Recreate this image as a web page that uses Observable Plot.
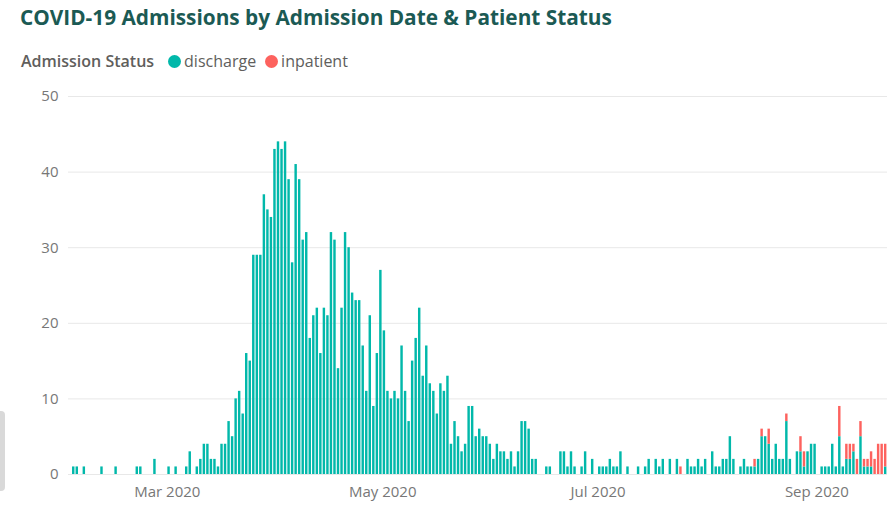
<!DOCTYPE html>
<html>
<head>
<meta charset="utf-8">
<script src="https://cdn.jsdelivr.net/npm/d3@7"></script>
<script src="https://cdn.jsdelivr.net/npm/@observablehq/plot@0.6"></script>
<style>
  html, body { margin: 0; padding: 0; background: #fff; }
  body { width: 895px; height: 519px; position: relative; overflow: hidden; font-family: "Open Sans", "Noto Sans", sans-serif; }
  #title { position: absolute; left: 20px; top: 3px; font-size: 20.8px; font-weight: 700; color: #1b5a54; white-space: nowrap; }
  #legend { position: absolute; left: 21px; top: 50px; display: flex; align-items: center; font-size: 16px; color: #605e5c; white-space: nowrap; }
  #legend .lab { font-weight: 600; margin-right: 14px; }
  #legend .dot { width: 13px; height: 13px; border-radius: 50%; display: inline-block; margin-right: 3px; }
  #legend .item { margin-right: 9px; }
  #chart { position: absolute; left: 0; top: 80px; }
  #scroll { position: absolute; left: 0; top: 411px; width: 5px; height: 80px; background: #d9d9d9; border-radius: 0 4px 4px 0; }
</style>
</head>
<body>
<div id="title">COVID-19 Admissions by Admission Date &amp; Patient Status</div>
<div id="legend"></div>
<div id="chart"></div>
<div id="scroll"></div>
<script>
// ---- data ----
const statuses = ["discharge", "inpatient"];
const statusColors = ["#01B8AA", "#FD625E"];
const legendTitle = "Admission Status";
const yTicks = [0, 10, 20, 30, 40, 50];
const xTickDates = ["2020-03-01", "2020-05-01", "2020-07-01", "2020-09-01"];

const dates = [
  "2020-02-03","2020-02-04","2020-02-06","2020-02-11","2020-02-15","2020-02-21","2020-02-22","2020-02-26",
  "2020-03-01","2020-03-03","2020-03-06","2020-03-07",
  "2020-03-09","2020-03-10","2020-03-11","2020-03-12","2020-03-13","2020-03-14","2020-03-15","2020-03-16","2020-03-17","2020-03-18",
  "2020-03-19","2020-03-20","2020-03-21","2020-03-22","2020-03-23","2020-03-24","2020-03-25","2020-03-26","2020-03-27","2020-03-28",
  "2020-03-29","2020-03-30","2020-03-31",
  "2020-04-01","2020-04-02","2020-04-03","2020-04-04","2020-04-05","2020-04-06","2020-04-07","2020-04-08","2020-04-09","2020-04-10",
  "2020-04-11","2020-04-12","2020-04-13","2020-04-14","2020-04-15","2020-04-16","2020-04-17","2020-04-18","2020-04-19","2020-04-20",
  "2020-04-21","2020-04-22","2020-04-23","2020-04-24","2020-04-25","2020-04-26","2020-04-27","2020-04-28","2020-04-29","2020-04-30",
  "2020-05-01","2020-05-02","2020-05-03","2020-05-04","2020-05-05","2020-05-06","2020-05-07","2020-05-08","2020-05-09","2020-05-10",
  "2020-05-11","2020-05-12","2020-05-13","2020-05-14","2020-05-15","2020-05-16","2020-05-17","2020-05-18","2020-05-19","2020-05-20",
  "2020-05-21","2020-05-22","2020-05-23","2020-05-24","2020-05-25","2020-05-26","2020-05-27","2020-05-28","2020-05-29","2020-05-30",
  "2020-05-31",
  "2020-06-01","2020-06-02","2020-06-03","2020-06-04","2020-06-05","2020-06-06","2020-06-07","2020-06-08","2020-06-09","2020-06-10",
  "2020-06-11","2020-06-12","2020-06-13",
  "2020-06-16","2020-06-17","2020-06-20","2020-06-21","2020-06-22","2020-06-23","2020-06-24","2020-06-26","2020-06-27","2020-06-29",
  "2020-07-01","2020-07-02","2020-07-03","2020-07-04","2020-07-05","2020-07-06","2020-07-07","2020-07-09","2020-07-12","2020-07-14",
  "2020-07-15","2020-07-17","2020-07-18","2020-07-19","2020-07-21","2020-07-23","2020-07-24","2020-07-26","2020-07-27","2020-07-28",
  "2020-07-29","2020-07-30","2020-07-31",
  "2020-08-02","2020-08-03","2020-08-04","2020-08-05","2020-08-06","2020-08-07","2020-08-08",
  "2020-08-10","2020-08-11","2020-08-12","2020-08-13","2020-08-14","2020-08-15","2020-08-16","2020-08-17","2020-08-18","2020-08-19",
  "2020-08-20","2020-08-21","2020-08-22","2020-08-23","2020-08-24",
  "2020-08-26","2020-08-27","2020-08-28","2020-08-29","2020-08-30","2020-08-31",
  "2020-09-02","2020-09-03","2020-09-04","2020-09-05","2020-09-06","2020-09-07","2020-09-08","2020-09-09","2020-09-10","2020-09-11",
  "2020-09-12","2020-09-13","2020-09-14","2020-09-15","2020-09-16","2020-09-17","2020-09-18","2020-09-19","2020-09-20"
];

const discharge = [
  1,1,1,1,1,1,1,2,
  1,1,1,3,
  1,2,4,4,2,2,1,4,4,7,
  5,10,11,8,16,15,29,29,29,37,
  35,34,43,
  44,43,44,39,28,41,39,31,32,18,
  21,22,16,22,21,32,31,14,22,32,
  30,24,23,23,17,11,21,9,16,27,
  19,11,10,11,10,17,11,7,15,18,
  22,13,17,12,11,8,12,11,13,4,
  7,5,3,4,9,9,5,6,5,5,
  4,
  2,4,3,3,2,3,1,3,7,7,
  6,2,2,
  1,1,3,3,1,3,1,1,3,2,
  1,1,1,2,1,1,3,1,1,1,
  2,2,1,2,2,2,0,2,1,1,
  2,1,2,
  3,1,1,2,2,5,2,
  1,2,1,1,1,2,5,5,4,2,
  4,2,2,7,2,
  3,3,1,3,4,4,
  1,1,1,4,1,5,1,2,2,3,
  0,5,1,1,1,0,0,0,1
];

const inpatient = [
  0,0,0,0,0,0,0,0,
  0,0,0,0,
  0,0,0,0,0,0,0,0,0,0,
  0,0,0,0,0,0,0,0,0,0,
  0,0,0,
  0,0,0,0,0,0,0,0,0,0,
  0,0,0,0,0,0,0,0,0,0,
  0,0,0,0,0,0,0,0,0,0,
  0,0,0,0,0,0,0,0,0,0,
  0,0,0,0,0,0,0,0,0,0,
  0,0,0,0,0,0,0,0,0,0,
  0,
  0,0,0,0,0,0,0,0,0,0,
  0,0,0,
  0,0,0,0,0,0,0,0,0,0,
  0,0,0,0,0,0,0,0,0,0,
  0,0,0,0,0,0,1,0,0,0,
  0,0,0,
  0,0,0,0,0,0,0,
  0,0,0,0,1,0,1,0,2,0,
  0,0,0,1,0,
  0,2,2,0,0,0,
  0,0,0,0,0,4,0,2,2,1,
  2,2,1,1,2,2,4,4,3
];

// ---- build table ----
const rows = [];
dates.forEach((d, i) => {
  const date = new Date(d);
  if (discharge[i] > 0) rows.push({date, status: statuses[0], count: discharge[i]});
  if (inpatient[i] > 0) rows.push({date, status: statuses[1], count: inpatient[i]});
});

// ---- legend ----
const legend = document.getElementById("legend");
legend.innerHTML = `<span class="lab">${legendTitle}</span>` +
  statuses.map((s, i) => `<span class="dot" style="background:${statusColors[i]}"></span><span class="item">${s}</span>`).join("");

// ---- chart ----
const chart = Plot.plot({
  width: 895,
  height: 439,
  marginLeft: 68,
  marginRight: 8,
  marginTop: 16,
  marginBottom: 45,
  style: {fontFamily: "'Open Sans', 'Noto Sans', sans-serif", fontSize: "15px", color: "#777", background: "transparent", overflow: "visible"},
  x: {
    type: "utc",
    domain: [new Date("2020-02-02"), new Date("2020-09-21")],
    ticks: xTickDates.map(d => new Date(d)),
    tickFormat: d3.utcFormat("%b %Y"),
    tickSize: 0,
    tickPadding: 12,
    label: null
  },
  y: {domain: [0, 50], ticks: yTicks, tickSize: 0, tickPadding: 10, label: null},
  color: {domain: statuses, range: statusColors},
  marks: [
    Plot.gridY(yTicks, {stroke: "#e8e8e8", strokeOpacity: 1}),
    Plot.rectY(rows, {x: "date", y: "count", fill: "status", interval: d3.utcDay, insetLeft: 0.5, insetRight: 0.6})
  ]
});
document.getElementById("chart").appendChild(chart);
</script>
</body>
</html>
